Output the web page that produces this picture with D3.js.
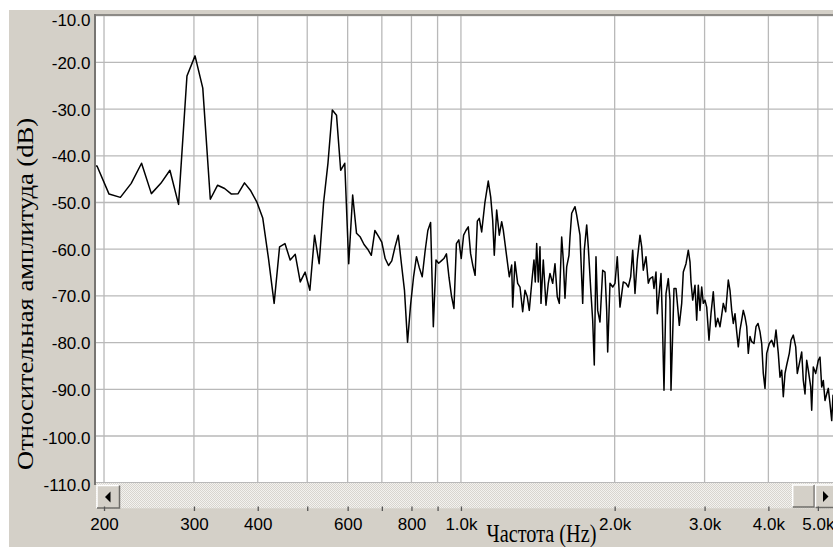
<!DOCTYPE html>
<meta charset="utf-8">
<head>
  <title>Спектр</title>
</head>
<style>
  body { margin: 0; background: #fff; }
  svg { display: block; }
  .tick text {
    font-family: "Liberation Sans", Arial, sans-serif;
    font-size: 17px;
    fill: #000;
  }
  .ax-title {
    font-family: "Liberation Serif", "Times New Roman", serif;
    fill: #000;
  }
</style>
<body>
<script src="https://d3js.org/d3.v7.min.js"></script>
<div id="chart"></div>
<script>

// spectrum: [frequency Hz, level dB]
var spectrum = [
  [183.0,-42.0],[193.8,-42.2],[204.6,-48.2],[215.3,-48.9],[226.1,-45.9],[236.9,-41.6],[247.6,-48.1],[258.4,-45.9],
  [269.2,-43.1],[279.9,-50.4],[290.7,-22.9],[301.5,-18.6],[312.2,-25.5],[323.0,-49.3],[333.8,-46.3],[344.5,-47.0],
  [355.3,-48.2],[366.1,-48.1],[376.8,-45.8],[387.6,-47.5],[398.4,-49.9],[409.1,-53.3],[419.9,-62.0],[430.7,-71.6],
  [441.4,-59.5],[452.2,-58.8],[463.0,-62.3],[473.7,-61.1],[484.5,-67.0],[495.3,-64.9],[506.0,-68.8],[516.8,-57.0],
  [527.6,-63.1],[538.3,-50.0],[549.1,-41.5],[559.9,-30.2],[570.6,-31.3],[581.4,-43.1],[592.2,-41.6],[602.9,-63.1],
  [613.7,-48.4],[624.5,-56.6],[635.2,-57.4],[646.0,-59.0],[656.8,-60.0],[667.5,-61.3],[678.3,-56.0],[689.1,-57.2],
  [699.8,-58.5],[710.6,-62.0],[721.4,-63.5],[732.1,-62.5],[742.9,-59.5],[753.7,-57.0],[764.4,-63.0],[775.2,-68.8],
  [786.0,-79.9],[796.7,-72.0],[807.5,-66.0],[818.3,-61.6],[829.0,-64.0],[839.8,-65.9],[850.6,-60.5],[861.3,-56.0],
  [872.1,-54.3],[882.9,-76.6],[893.6,-62.3],[904.4,-63.0],[915.2,-62.5],[925.9,-62.0],[936.7,-61.0],[947.5,-66.0],
  [958.2,-70.0],[969.0,-72.7],[979.8,-58.8],[990.5,-58.0],[1001.3,-62.0],[1012.1,-57.0],[1022.8,-56.0],[1033.6,-55.2],
  [1044.4,-60.9],[1055.1,-63.5],[1065.9,-65.6],[1076.7,-54.0],
  [1086.2,-53.4],[1098.0,-56.3],[1114.4,-49.9],[1131.1,-45.4],[1143.5,-48.8],[1153.9,-53.8],[1162.2,-61.3],[1174.8,-51.6],
  [1188.7,-57.0],[1201.7,-54.1],[1210.4,-55.9],[1229.1,-61.6],[1243.6,-65.9],[1257.1,-63.4],[1262.8,-72.4],[1275.9,-62.7],
  [1291.5,-67.3],[1305.0,-68.1],[1321.0,-73.4],[1334.8,-68.8],[1348.6,-70.2],[1360.9,-73.1],[1377.6,-66.6],[1390.0,-62.3],
  [1398.2,-67.0],[1407.1,-58.8],[1417.3,-67.0],[1428.2,-59.5],[1434.7,-71.6],[1449.6,-62.3],[1467.4,-72.0],[1482.7,-67.3],
  [1494.1,-65.2],[1512.4,-67.3],[1528.2,-63.1],[1544.0,-70.2],[1558.1,-71.6],[1575.0,-57.4],[1586.4,-62.3],[1598.6,-70.5],
  [1610.9,-63.8],[1627.7,-61.3],[1635.1,-57.4],[1647.7,-52.3],[1672.4,-50.9],[1685.2,-52.7],[1710.5,-57.0],[1731.5,-71.6],
  [1744.0,-60.2],[1763.0,-54.8],[1775.7,-59.5],[1797.5,-69.5],[1811.3,-75.2],[1824.4,-84.8],[1838.5,-61.6],[1852.5,-73.1],
  [1871.9,-75.6],[1894.8,-64.5],[1914.6,-64.9],[1929.3,-73.1],[1938.1,-82.0],[1958.3,-67.3],[1982.3,-68.1],[2003.0,-67.3],
  [2023.7,-61.6],[2048.6,-72.4],[2079.3,-67.0],[2104.8,-67.3],[2126.7,-68.1],[2149.9,-65.9],[2169.4,-60.2],[2192.0,-69.5],
  [2214.7,-62.3],[2242.0,-57.0],[2259.2,-59.5],[2275.6,-64.5],[2303.5,-61.6],[2327.5,-67.3],[2345.4,-66.3],[2374.1,-65.9],
  [2388.0,-68.4],[2409.7,-64.9],[2423.9,-73.8],[2445.8,-69.1],[2464.7,-65.2],[2479.2,-74.5],[2498.2,-90.2],[2521.0,-69.5],
  [2547.2,-66.3],[2566.8,-70.9],[2578.4,-90.2],[2598.2,-78.1],[2613.4,-68.4],[2637.2,-68.4],[2657.5,-72.4],[2676.7,-76.3],
  [2705.9,-71.6],[2725.5,-64.9],[2758.9,-63.1],[2787.6,-60.2],[2809.0,-62.7],[2821.7,-67.0],[2843.4,-70.9],[2873.0,-67.7],
  [2895.1,-75.2],[2916.1,-67.7],[2938.6,-73.1],[2961.2,-68.1],[2982.6,-71.6],[3005.6,-70.9],[3028.7,-72.4],[3060.3,-79.5],
  [3088.1,-73.8],[3120.3,-69.1],[3154.2,-76.6],[3182.8,-74.8],[3216.0,-76.6],[3240.7,-74.1],[3264.2,-71.6],[3299.7,-73.4],
  [3338.6,-66.6],[3364.3,-68.8],[3390.2,-73.1],[3414.7,-75.9],[3441.0,-73.8],[3467.5,-77.7],[3492.6,-80.9],[3519.5,-77.3],
  [3546.6,-75.2],[3572.3,-73.1],[3599.7,-74.5],[3627.4,-76.6],[3653.7,-82.3],[3681.8,-78.7],[3710.1,-79.8],[3748.7,-80.2],
  [3782.8,-76.6],[3817.4,-75.9],[3851.7,-77.7],[3881.3,-80.2],[3909.4,-86.6],[3939.5,-89.8],[3969.8,-82.3],[4016.6,-80.2],
  [4060.3,-79.5],[4102.5,-80.9],[4139.8,-77.3],[4182.9,-82.3],[4215.2,-87.4],[4247.6,-85.9],[4278.4,-91.6],[4311.3,-86.6],
  [4344.4,-84.8],[4395.7,-82.3],[4429.5,-79.5],[4475.7,-78.4],[4524.4,-80.9],[4557.2,-86.6],[4613.0,-83.8],[4648.5,-82.0],
  [4682.1,-88.1],[4718.2,-91.0],[4754.4,-83.8],[4788.9,-85.9],[4841.1,-89.5],[4862.9,-94.5],[4898.1,-85.2],[4951.5,-86.6],
  [5009.8,-83.8],[5048.4,-83.1],[5087.2,-89.5],[5124.1,-88.1],[5163.5,-92.4],[5203.2,-91.0],[5240.9,-89.8],[5281.3,-93.1],
  [5321.9,-96.7],[5353.2,-91.3],[5390.0,-95.0]
];

var yTicks = [-10, -20, -30, -40, -50, -60, -70, -80, -90, -100, -110];
var xTickValues = [200, 300, 400, 500, 600, 700, 800, 900, 1000, 2000, 3000, 4000, 5000];
var xTickLabels = ["200", "300", "400", "", "600", "", "800", "", "1.0k", "2.0k", "3.0k", "4.0k", "5.0k"];

var xTitle = "Частота (Hz)";
var yTitle = "Относительная амплитуда (dB)";

var W = 833, H = 547;
var plot = { left: 96, top: 16, right: 833, bottom: 483 };

var x = d3.scaleLog()
  .domain([192.9, 5353])
  .range([plot.left, plot.right]);

var y = d3.scaleLinear()
  .domain([-110, -10])
  .range([482.7, 15.7]);

var svg = d3.select("#chart").append("svg")
  .attr("width", W)
  .attr("height", H);

var defs = svg.append("defs");
defs.append("clipPath").attr("id", "plotclip")
  .append("rect")
  .attr("x", plot.left).attr("y", plot.top)
  .attr("width", plot.right - plot.left).attr("height", plot.bottom - plot.top);

var pat = defs.append("pattern").attr("id", "dither")
  .attr("width", 2).attr("height", 2)
  .attr("patternUnits", "userSpaceOnUse");
pat.append("rect").attr("width", 2).attr("height", 2).attr("fill", "#f3f2ef");
pat.append("rect").attr("width", 1).attr("height", 1).attr("fill", "#d8d5cf");
pat.append("rect").attr("x", 1).attr("y", 1).attr("width", 1).attr("height", 1).attr("fill", "#d8d5cf");

// grey window panel
svg.append("rect")
  .attr("x", 9).attr("y", 10)
  .attr("width", W - 9).attr("height", H - 10)
  .attr("fill", "#d4d0c8");

// plot background
svg.append("rect")
  .attr("x", plot.left).attr("y", plot.top)
  .attr("width", plot.right - plot.left).attr("height", plot.bottom - plot.top)
  .attr("fill", "#fff");

// grid
var grid = svg.append("g").attr("clip-path", "url(#plotclip)");
grid.selectAll("line.v")
  .data(xTickValues)
  .enter().append("line")
  .attr("class", "v")
  .attr("x1", function(d) { return x(d); })
  .attr("x2", function(d) { return x(d); })
  .attr("y1", plot.top).attr("y2", plot.bottom)
  .attr("stroke", "#b9b9b9")
  .attr("stroke-width", 1.3);
grid.selectAll("line.h")
  .data(yTicks)
  .enter().append("line")
  .attr("class", "h")
  .attr("x1", plot.left).attr("x2", plot.right)
  .attr("y1", function(d) { return y(d); })
  .attr("y2", function(d) { return y(d); })
  .attr("stroke", "#b9b9b9")
  .attr("stroke-width", 1.3);

// spectrum line
var line = d3.line()
  .x(function(d) { return x(d[0]); })
  .y(function(d) { return y(d[1]); });

svg.append("path")
  .datum(spectrum)
  .attr("clip-path", "url(#plotclip)")
  .attr("d", line)
  .attr("fill", "none")
  .attr("stroke", "#000")
  .attr("stroke-width", 1.5)
  .attr("stroke-linejoin", "round");

// plot borders
svg.append("line")
  .attr("x1", plot.left - 1).attr("x2", W)
  .attr("y1", 15).attr("y2", 15)
  .attr("stroke", "#8c8a86").attr("stroke-width", 2);
svg.append("line")
  .attr("x1", 95).attr("x2", 95)
  .attr("y1", 14).attr("y2", plot.bottom + 2)
  .attr("stroke", "#777572").attr("stroke-width", 2);

// scrollbar
var sb = svg.append("g");
sb.append("rect")
  .attr("x", plot.left).attr("y", 483)
  .attr("width", W - plot.left).attr("height", 25.3)
  .attr("fill", "url(#dither)");

function button(g, bx, by, bw, bh) {
  g.append("rect").attr("x", bx).attr("y", by).attr("width", bw).attr("height", bh).attr("fill", "#d4d0c8");
  g.append("path")
    .attr("d", "M" + bx + "," + (by + bh) + "V" + by + "H" + (bx + bw))
    .attr("fill", "none").attr("stroke", "#fff").attr("stroke-width", 1.5);
  g.append("path")
    .attr("d", "M" + bx + "," + (by + bh) + "H" + (bx + bw) + "V" + by)
    .attr("fill", "none").attr("stroke", "#6e6c68").attr("stroke-width", 1.5);
}
button(sb, 97, 485.5, 22.5, 22.5);
sb.append("path").attr("d", "M105,497L110.5,491.5V502.5Z").attr("fill", "#000");
button(sb, 792.7, 485, 21.5, 22);
button(sb, 815.5, 485, 22, 22.5);
sb.append("path").attr("d", "M828.5,496.5L823,491V502Z").attr("fill", "#000");

// x axis
var xAxis = d3.axisBottom(x)
  .tickValues(xTickValues)
  .tickFormat(function(d, i) { return xTickLabels[i]; })
  .tickSizeInner(4.5)
  .tickSizeOuter(0)
  .tickPadding(6.5);
var gx = svg.append("g")
  .attr("transform", "translate(0,506.5)")
  .call(xAxis);
gx.select(".domain").remove();
gx.selectAll(".tick line").attr("stroke", "#555").attr("stroke-width", 1.3);

// y axis
var yAxis = d3.axisLeft(y)
  .tickValues(yTicks)
  .tickFormat(function(d) { return d.toFixed(1); })
  .tickSize(0)
  .tickPadding(5.5);
var gy = svg.append("g")
  .attr("transform", "translate(" + plot.left + ",0)")
  .call(yAxis);
gy.select(".domain").remove();
gy.selectAll(".tick text")
  .attr("y", function(d) { return d === -10 ? 4.5 : (d <= -100 ? 2.5 : 0.5); });

// axis titles (the source screenshot is stretched a little vertically)
svg.append("text")
  .attr("class", "ax-title")
  .attr("transform", "translate(541.5,542.3) scale(1,1.19)")
  .attr("text-anchor", "middle")
  .attr("font-size", 21.5)
  .attr("textLength", 110)
  .attr("lengthAdjust", "spacingAndGlyphs")
  .text(xTitle);

svg.append("text")
  .attr("class", "ax-title")
  .attr("transform", "translate(33,294) rotate(-90)")
  .attr("text-anchor", "middle")
  .attr("font-size", 22.5)
  .attr("textLength", 352)
  .attr("lengthAdjust", "spacingAndGlyphs")
  .text(yTitle);

</script>
</body>
